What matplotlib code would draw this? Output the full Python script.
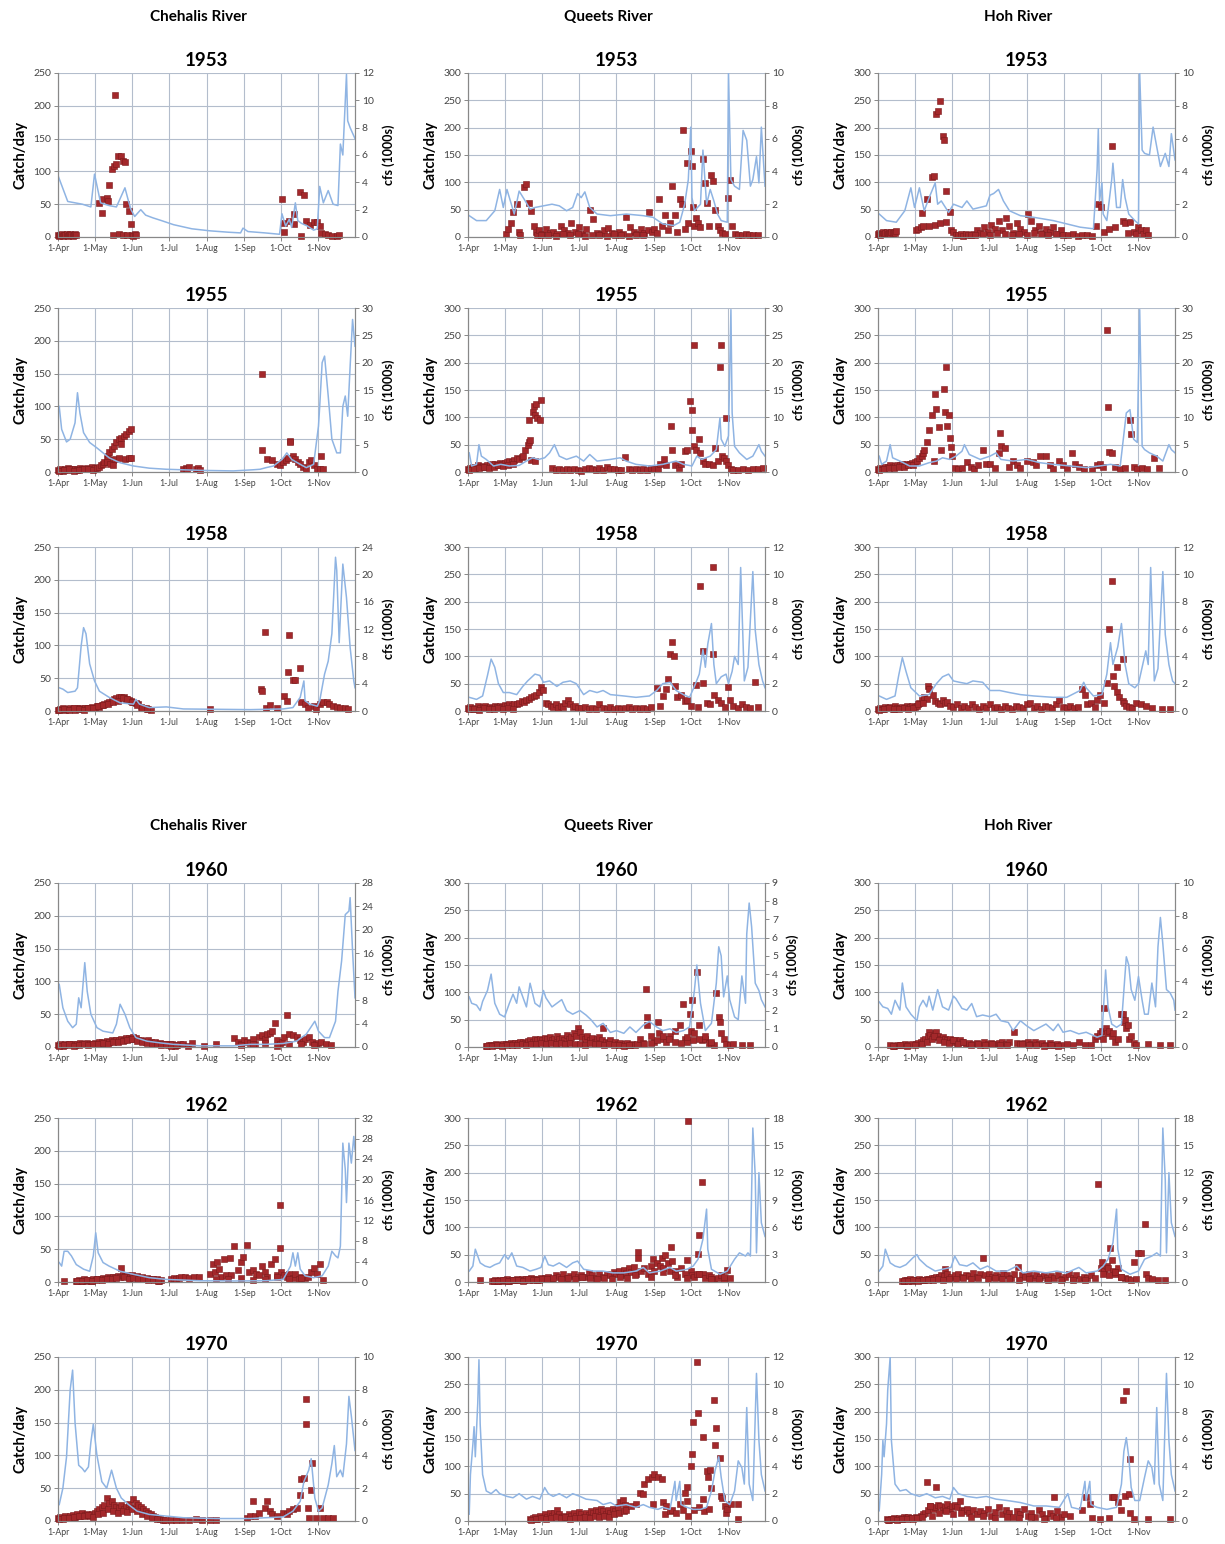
import matplotlib
matplotlib.use('Agg')  # headless

import matplotlib.pyplot as plt
import numpy as np

# ==========================================
# 1. Axis setup (day 0 = 1-Apr)
# ==========================================
MONTH_DAYS = [0, 30, 61, 91, 122, 153, 183, 214]
MONTH_LABELS = ['1-Apr', '1-May', '1-Jun', '1-Jul', '1-Aug', '1-Sep', '1-Oct', '1-Nov']
RIVERS = ['Chehalis River', 'Queets River', 'Hoh River']
YEARS = [1953, 1955, 1958, 1960, 1962, 1970]
CATCH_MAX = [250, 300, 300]
# right axis (cfs, 1000s) max / step per river, rows = years
CFS_MAX_CHE = [12, 30, 24, 28, 32, 10]
CFS_STEP_CHE = [2, 5, 4, 4, 4, 2]
CFS_MAX_QUE = [10, 30, 12, 9, 18, 12]
CFS_STEP_QUE = [2, 5, 2, 1, 3, 2]
CFS_MAX_HOH = [10, 30, 12, 10, 18, 12]
CFS_STEP_HOH = [2, 5, 2, 2, 3, 2]

# ==========================================
# 2. Data
# ==========================================
# ---- Chehalis 1953
CHE53_FLOW_DAY = [0, 8, 14, 20, 27, 30, 35, 42, 48, 55, 58, 60, 63, 68, 72, 78, 85, 95, 110, 125,
                  140, 150, 152, 156, 170, 182, 184, 187, 190, 192, 195, 197, 200, 205, 210, 213, 215, 218, 222, 226,
                  230, 232, 234, 237, 238, 240, 244]
CHE53_FLOW = [4.5, 2.6, 2.5, 2.4, 2.2, 4.6, 2.5, 2.3, 2.2, 3.6, 2.6, 2.0, 1.5, 2.0, 1.6, 1.4, 1.2, 0.9, 0.6, 0.45,
              0.35, 0.3, 0.65, 0.4, 0.3, 0.2, 1.7, 0.8, 1.3, 0.7, 2.5, 1.2, 1.0, 0.8, 0.5, 0.6, 3.7, 2.5, 3.4, 2.4,
              2.3, 6.8, 6.0, 11.9, 8.5, 8.0, 7.2]
CHE53_CATCH_DAY = [0, 1, 2, 3, 4, 5, 6, 7, 8, 9, 10, 11, 12, 13, 14, 15,
                   34, 36, 37, 40, 41, 42, 44, 45, 46, 47, 48, 49, 50, 52, 53, 53, 55, 56, 57, 58, 60, 61, 62, 63, 64,
                   184, 186, 186, 190, 194, 194, 199, 202, 200, 204, 207, 210, 213, 215, 216, 219, 222, 225, 229, 231]
CHE53_CATCH = [3, 2, 3, 4, 2, 3, 3, 4, 2, 3, 4, 3, 2, 3, 4, 3,
               52, 36, 58, 60, 55, 80, 103, 3, 108, 217, 111, 124, 4, 124, 3, 116, 114, 50, 3, 40, 20, 3, 2, 4, 3,
               58, 22, 8, 25, 20, 35, 69, 64, 2, 24, 18, 23, 23, 17, 6, 4, 3, 2, 1, 3]

# ---- Queets 1953
QUE53_FLOW_DAY = [1, 7, 15, 22, 26, 29, 32, 34, 38, 42, 47, 51, 55, 62, 69, 75, 81, 86, 90, 93,
                  96, 100, 106, 117, 130, 144, 152, 160, 169, 174, 178, 181, 183, 184, 186, 191, 193, 196, 199, 202,
                  205, 208, 213, 214, 216, 219, 223, 226, 229, 232, 234, 237, 239, 241, 244]
QUE53_FLOW = [1.3, 1.0, 1.0, 1.6, 2.9, 1.8, 2.9, 2.4, 1.4, 2.8, 2.2, 1.7, 1.8, 1.9, 2.0, 1.9, 1.6, 1.8, 2.65, 2.4,
              2.75, 1.8, 1.4, 1.3, 1.4, 1.3, 1.2, 0.8, 0.7, 0.9, 2.0, 3.5, 6.7, 2.4, 1.6, 2.0, 5.3, 2.0, 2.9, 2.2,
              1.4, 1.0, 0.9, 10.0, 3.5, 3.1, 2.9, 6.5, 5.9, 3.1, 3.5, 4.9, 3.3, 6.7, 3.1]
QUE53_CATCH_DAY = [31, 33, 35, 37, 40, 42, 43, 46, 48, 50, 52, 54, 56, 57,
                   58, 61, 64, 67, 70, 73, 76, 79, 82, 85, 88, 91, 94, 97, 100, 103, 106, 109, 112, 115,
                   118, 121, 124, 127, 130, 133, 136, 139, 142, 145, 148,
                   60, 66, 72, 78, 84, 90, 96, 102, 108, 114, 120, 126, 132, 138, 144,
                   149, 151, 153, 155, 157, 159, 162, 164, 166, 168, 170, 172, 174, 176, 177, 178, 180, 181, 183, 184,
                   185, 186, 187, 189, 191, 193, 195, 196, 198, 200, 201, 203, 205, 207, 209, 211, 214, 215, 217, 219,
                   222, 225, 228, 231, 234, 238]
QUE53_CATCH = [5, 15, 25, 45, 60, 10, 3, 92, 97, 62, 47, 20, 10, 3,
               12, 5, 15, 8, 10, 6, 20, 12, 8, 26, 10, 18, 6, 14, 49, 33, 8, 5, 12, 16,
               8, 4, 10, 6, 37, 18, 9, 5, 14, 8, 12,
               3, 4, 2, 5, 3, 6, 2, 4, 3, 2, 5, 3, 2, 4, 3,
               46, 10, 15, 8, 69, 20, 40, 12, 25, 94, 40, 10, 70, 60, 195, 15, 136, 25, 157, 130,
               55, 20, 35, 25, 18, 143, 98, 62, 20, 113, 103, 50, 20, 12, 8, 5, 72, 104, 20, 5,
               4, 3, 5, 3, 4, 3]

# ---- Hoh 1953
HOH53_FLOW_DAY = [1, 7, 15, 22, 27, 30, 34, 38, 42, 47, 49, 52, 58, 62, 69, 73, 78, 89, 92, 95,
                  99, 103, 108, 117, 128, 144, 155, 166, 177, 180, 181, 182, 184, 185, 188, 192, 193, 196, 199, 201,
                  203, 206, 211, 214, 215, 217, 219, 223, 226, 228, 232, 236, 239, 241, 244]
HOH53_FLOW = [1.4, 1.0, 0.9, 1.6, 3.0, 1.8, 3.0, 1.6, 2.4, 3.3, 2.0, 2.2, 1.5, 2.0, 1.8, 2.2, 1.7, 1.9, 2.55, 2.65,
              2.9, 2.2, 1.6, 1.3, 1.2, 1.0, 0.8, 0.6, 0.5, 4.1, 6.6, 2.2, 3.3, 1.4, 1.0, 3.5, 4.5, 1.8, 1.8, 3.5,
              2.4, 1.4, 1.0, 0.8, 10.0, 5.3, 5.1, 5.0, 6.7, 5.9, 4.3, 5.1, 4.3, 6.3, 4.7]
HOH53_CATCH_DAY = [0, 1, 2, 3, 4, 5, 6, 7, 8, 9, 10, 11, 12, 13, 14, 15,
                   31, 33, 35, 36, 37, 40, 42, 44, 46, 47, 48, 49, 51, 51, 53, 54, 56, 56, 59, 60, 62,
                   78, 81, 84, 87, 90, 93, 96, 99, 102, 105, 108, 111, 114, 117, 120, 123, 126, 129, 132, 135,
                   138, 141, 144, 147, 150,
                   64, 66, 68, 70, 72, 74, 76, 80, 86, 92, 98, 104, 110, 116, 122, 128, 134, 140, 146, 152,
                   156, 160, 164, 168, 172, 176,
                   179, 181, 183, 186, 190, 192, 195, 201, 203, 205, 207, 210, 212, 214, 216, 218, 220, 222]
HOH53_CATCH = [5, 8, 4, 6, 9, 5, 7, 10, 6, 8, 5, 9, 7, 10, 8, 11,
               12, 15, 18, 43, 20, 70, 20, 109, 112, 22, 225, 230, 249, 25, 184, 177, 84, 28, 46, 12, 10,
               5, 12, 8, 18, 10, 22, 15, 30, 12, 35, 20, 8, 25, 15, 10, 42, 30, 12, 20, 8,
               15, 10, 18, 5, 12,
               4, 3, 5, 2, 6, 3, 4, 3, 6, 4, 8, 5, 3, 6, 4, 8, 5, 3, 6, 4,
               3, 5, 2, 4, 3, 2,
               21, 60, 55, 10, 15, 167, 18, 30, 25, 8, 28, 10, 5, 18, 12, 6, 12, 4]

# ---- Chehalis 1955
CHE55_FLOW_DAY = [1, 3, 7, 10, 14, 16, 18, 21, 26, 32, 37, 42, 51, 62, 75, 89, 117, 144, 160, 166,
                  171, 177, 184, 188, 192, 199, 204, 210, 214, 215, 217, 219, 222, 225, 229, 232, 234, 236, 238, 240,
                  242, 244]
CHE55_FLOW = [12, 7.8, 5.5, 6.0, 9.0, 14.5, 10.8, 7.2, 5.4, 4.4, 3.5, 2.6, 1.7, 1.1, 0.7, 0.5, 0.3, 0.2, 0.4, 0.5,
              0.8, 1.1, 2.3, 3.5, 2.3, 1.4, 0.8, 1.4, 8.4, 12, 20, 21.2, 13.9, 6.0, 3.5, 3.5, 12, 13.9, 10.2, 19.3,
              27.9, 23]
CHE55_CATCH_DAY = [0, 2, 4, 6, 8, 10, 12, 14, 16, 18, 20, 22, 24, 26, 28, 30, 1, 5, 9, 13, 17, 21, 25, 29,
                   32, 34, 35, 37, 38, 40, 41, 42, 44, 45, 46, 48, 50, 52, 54, 56, 58, 60,
                   40, 43, 45, 47, 50, 52, 55, 58, 60,
                   103, 105, 106, 108, 113, 115, 117,
                   168, 168, 172, 176, 180, 182, 185, 187, 189, 191, 191, 193, 195, 197, 199, 201, 204, 206, 208, 210,
                   213, 215, 216, 218]
CHE55_CATCH = [3, 5, 2, 4, 6, 3, 5, 4, 3, 6, 5, 4, 6, 5, 7, 6, 2, 3, 4, 2, 3, 5, 4, 3,
               6, 8, 10, 12, 15, 22, 25, 30, 35, 19, 40, 45, 50, 52, 55, 58, 62, 65,
               15, 12, 10, 20, 22, 42, 20, 21, 22,
               4, 6, 5, 7, 4, 6, 3,
               150, 34, 20, 18, 12, 10, 15, 18, 22, 47, 45, 25, 20, 15, 12, 8, 5, 15, 18, 10,
               5, 5, 24, 4]

# ---- Queets 1955
QUE55_FLOW_DAY = [1, 3, 7, 9, 11, 15, 21, 27, 34, 42, 48, 53, 58, 63, 67, 71, 75, 81, 89, 95,
                  100, 106, 117, 125, 130, 138, 149, 160, 171, 177, 184, 188, 192, 199, 204, 207, 208, 211, 214, 216,
                  217, 219, 223, 229, 234, 239, 241, 244]
QUE55_FLOW = [3.5, 1.1, 1.4, 5.0, 2.9, 2.3, 1.1, 1.4, 1.1, 1.2, 2.0, 2.6, 2.3, 2.6, 3.5, 5.0, 2.9, 2.3, 2.9, 2.0,
              3.2, 2.0, 2.3, 2.6, 2.0, 1.4, 1.1, 1.4, 2.0, 1.4, 1.1, 2.9, 2.3, 2.9, 4.1, 9.9, 6.0, 4.7, 6.6, 29.7,
              10.8, 4.7, 3.5, 2.3, 2.9, 5.0, 3.8, 2.9]
QUE55_CATCH_DAY = [0, 2, 4, 6, 8, 10, 12, 14, 16, 18, 20, 22, 24, 26, 28, 30, 32, 34, 36, 38, 40, 42, 44,
                   1, 5, 9, 13, 17, 21, 25, 29, 33, 37,
                   45, 47, 49, 50, 50, 51, 53, 54, 55, 56, 57, 59, 60, 52, 55,
                   69, 72, 75, 78, 81, 84, 87, 90, 93, 96, 99, 102, 105, 108, 111, 114, 117, 120, 123, 126,
                   129, 132, 135, 138, 141, 144, 147, 150, 153, 156,
                   158, 161, 163, 167, 168, 170, 173, 175, 178, 180, 182, 184, 184, 186, 186, 187, 190, 191, 193, 195,
                   198, 201, 203, 205, 207, 208, 209, 210, 212, 212, 214, 216, 218, 222, 226, 230, 234, 238, 242]
QUE55_CATCH = [5, 8, 10, 7, 12, 9, 11, 10, 13, 12, 14, 15, 13, 16, 15, 17, 18, 20, 19, 22, 25, 24, 28,
               4, 6, 8, 9, 7, 10, 12, 11, 13, 15,
               30, 40, 50, 55, 96, 58, 110, 120, 105, 125, 99, 95, 131, 22, 20,
               7, 3, 5, 4, 6, 3, 5, 4, 2, 6, 8, 5, 3, 7, 4, 10, 5, 6, 4, 3,
               28, 5, 4, 6, 3, 5, 4, 8, 5, 6,
               15, 23, 12, 85, 40, 12, 8, 15, 38, 41, 130, 113, 77, 232, 47, 40, 60, 35, 20, 15,
               15, 12, 43, 20, 192, 232, 30, 25, 99, 20, 12, 5, 3, 4, 5, 3, 6, 5, 8]

# ---- Hoh 1955
HOH55_FLOW_DAY = [1, 3, 7, 10, 12, 18, 26, 34, 42, 48, 53, 59, 64, 69, 71, 75, 84, 92, 97, 101,
                  111, 122, 133, 144, 158, 171, 182, 191, 199, 204, 207, 210, 213, 215, 217, 219, 223, 229, 234, 239,
                  241, 244]
HOH55_FLOW = [2.9, 1.4, 2.0, 5.0, 2.6, 2.0, 1.1, 1.1, 1.7, 2.0, 2.6, 2.3, 2.9, 3.8, 5.0, 3.2, 2.3, 2.9, 3.5, 2.3,
              2.0, 2.3, 1.7, 1.4, 1.1, 0.8, 1.1, 1.4, 1.1, 10.8, 11.4, 6.0, 5.4, 29.7, 4.7, 4.1, 3.5, 2.9, 2.0, 5.0,
              4.1, 3.5]
HOH55_CATCH_DAY = [0, 2, 4, 6, 8, 10, 12, 14, 16, 18, 20, 22, 24, 26, 28, 30, 1, 5, 9, 13, 17, 21, 25, 29,
                   32, 34, 36, 37, 38, 40, 42, 44, 46, 47, 48, 50, 52, 54, 55, 56, 57, 58, 59, 60, 61,
                   63, 66, 69, 73, 76, 79, 82, 86, 89, 92, 96, 99, 100, 101, 104, 108, 111, 114, 117, 122,
                   127, 130, 133, 138, 141, 144, 149, 152, 155, 159, 162, 165, 169,
                   176, 180, 182, 185, 188, 189, 190, 192, 195, 199, 203, 207, 208, 210, 213, 217, 221, 227, 231]
HOH55_CATCH = [5, 8, 6, 10, 9, 12, 10, 11, 13, 12, 14, 12, 15, 14, 16, 18, 4, 6, 7, 8, 9, 10, 12, 13,
               20, 25, 30, 35, 40, 55, 77, 105, 20, 142, 115, 83, 40, 152, 110, 192, 84, 105, 62, 45, 30,
               8, 5, 8, 18, 10, 6, 12, 41, 15, 14, 8, 35, 71, 47, 44, 10, 20, 12, 8, 20,
               18, 12, 30, 30, 12, 5, 20, 12, 8, 34, 15, 10, 5,
               5, 12, 14, 10, 260, 119, 37, 35, 10, 5, 8, 96, 69, 10, 5, 8, 5, 25, 8]

# ---- Chehalis 1958
CHE58_FLOW_DAY = [1, 4, 8, 14, 16, 19, 21, 23, 26, 30, 34, 42, 51, 62, 64, 67, 75, 89, 103, 130,
                  158, 171, 185, 193, 199, 202, 203, 207, 213, 215, 219, 222, 225, 228, 229, 231, 234, 237, 240, 243,
                  244]
CHE58_FLOW = [3.4, 3.2, 2.7, 2.9, 3.4, 9.5, 12.2, 11.3, 6.9, 4.4, 2.9, 2.0, 1.2, 1.0, 1.7, 1.0, 0.5, 0.6, 0.3, 0.25,
              0.2, 0.25, 0.3, 0.5, 2.0, 4.4, 1.5, 1.0, 0.7, 1.5, 5.4, 7.3, 11.3, 22.5, 20.6, 10.0, 21.5, 16.6, 9.3, 4.4,
              3.4]
CHE58_CATCH_DAY = [0, 2, 4, 6, 8, 10, 12, 14, 16, 18, 20, 22, 24, 26, 28, 30,
                   32, 34, 36, 38, 40, 42, 44, 46, 48, 50, 52, 54, 56, 58, 60, 62, 64, 66, 68, 70, 72, 74, 76,
                   1, 5, 9, 13, 17, 21, 25, 29, 33, 37, 41, 45, 49, 53, 57, 61, 65, 69, 73,
                   125,
                   167, 168, 170, 171, 174, 180, 186, 188, 189, 190, 193, 195, 199, 200, 203, 205, 210, 212, 215, 218,
                   221, 223, 226, 229, 232, 236, 238]
CHE58_CATCH = [2, 3, 4, 2, 3, 4, 3, 2, 4, 5, 3, 4, 5, 4, 6, 5,
               7, 6, 9, 10, 12, 13, 15, 18, 20, 22, 22, 21, 19, 17, 15, 14, 12, 10, 6, 5, 4, 3, 2,
               1, 3, 2, 4, 3, 2, 5, 4, 8, 9, 11, 14, 16, 20, 18, 14, 9, 4, 3,
               3,
               33, 31, 121, 5, 9, 4, 23, 16, 59, 116, 47, 47, 66, 14, 10, 4, 8, 3, 10, 13,
               14, 10, 8, 6, 5, 4, 3]

# ---- Queets 1958
QUE58_FLOW_DAY = [1, 7, 12, 16, 19, 22, 25, 29, 34, 40, 45, 49, 55, 59, 62, 67, 73, 78, 84, 89,
                  95, 100, 106, 111, 117, 128, 138, 149, 155, 160, 166, 171, 177, 182, 186, 190, 193, 195, 197, 200,
                  202, 204, 208, 212, 214, 217, 219, 222, 224, 227, 230, 234, 236, 239, 242, 244]
QUE58_FLOW = [1.0, 0.85, 1.1, 2.6, 3.8, 3.2, 2.0, 1.35, 1.35, 1.2, 1.8, 2.2, 2.7, 2.6, 2.1, 2.2, 1.8, 2.1, 2.2, 2.0,
              1.2, 1.5, 1.35, 1.5, 1.2, 1.1, 1.0, 1.1, 1.5, 2.0, 2.1, 1.5, 1.2, 1.0, 1.8, 2.7, 4.5, 3.2, 4.9, 6.4,
              3.4, 2.0, 2.5, 2.7, 2.0, 2.9, 4.0, 3.4, 10.5, 2.2, 3.2, 10.2, 5.9, 3.4, 2.2, 1.7]
QUE58_CATCH_DAY = [0, 2, 4, 6, 8, 10, 12, 14, 16, 18, 20, 22, 24, 26, 28, 30, 32, 34, 36, 38, 40,
                   42, 44, 46, 48, 50, 52, 54, 56, 58, 60, 62,
                   64, 66, 68, 70, 72, 74, 76, 78, 80, 82, 84, 86, 88, 90,
                   93, 96, 99, 102, 105, 108, 111, 114, 117, 120, 123, 126, 129, 132, 135, 138, 141, 144, 147, 150,
                   1, 5, 9, 13, 17, 21, 25, 29, 33, 37,
                   155, 158, 160, 163, 164, 166, 168, 169, 170, 172, 175, 178, 180, 183, 187, 189, 191, 193, 193, 196,
                   199, 201, 201, 202, 205, 208, 211, 214, 215, 218, 222, 225, 228, 232, 236, 238]
QUE58_CATCH = [5, 8, 4, 6, 9, 5, 7, 10, 6, 8, 5, 9, 7, 10, 8, 11, 9, 12, 10, 12, 13,
               15, 18, 16, 20, 22, 25, 28, 30, 35, 43, 38,
               15, 12, 10, 8, 12, 6, 10, 8, 14, 21, 12, 8, 10, 6,
               5, 8, 3, 6, 4, 12, 5, 3, 7, 4, 6, 3, 5, 8, 4, 6, 3, 5, 4, 8,
               3, 4, 2, 5, 3, 4, 6, 3, 5, 4,
               42, 10, 28, 40, 58, 105, 127, 100, 45, 25, 30, 18, 20, 10, 47, 8, 228, 110, 52, 15,
               12, 263, 105, 30, 20, 15, 8, 43, 20, 10, 5, 12, 8, 5, 53, 8]

# ---- Hoh 1958
HOH58_FLOW_DAY = [1, 7, 14, 17, 20, 23, 27, 34, 42, 48, 53, 58, 62, 67, 73, 78, 86, 92, 100, 108,
                  117, 128, 144, 155, 166, 169, 171, 177, 184, 188, 191, 193, 197, 200, 203, 206, 211, 214, 217, 220,
                  222, 224, 227, 230, 234, 236, 239, 242, 244]
HOH58_FLOW = [1.1, 0.85, 1.1, 2.6, 3.9, 2.9, 1.7, 1.1, 1.2, 2.0, 2.5, 2.7, 2.2, 2.1, 2.0, 2.2, 2.1, 1.5, 1.5, 1.35,
              1.2, 1.1, 1.0, 1.0, 1.5, 2.1, 1.7, 1.1, 1.2, 2.7, 5.0, 3.4, 4.7, 6.4, 3.4, 2.0, 1.7, 2.0, 3.2, 4.4,
              3.4, 10.5, 2.2, 3.1, 10.2, 5.6, 3.4, 2.2, 2.0]
HOH58_CATCH_DAY = [0, 2, 4, 6, 8, 10, 12, 14, 16, 18, 20, 22, 24, 26, 28, 30,
                   32, 34, 36, 38, 40, 41, 42, 45, 47, 49, 51, 53, 55, 57, 59,
                   62, 65, 68, 71, 74, 77, 80, 83, 86, 89, 92, 95, 98, 101, 104, 107, 110, 113, 116, 119,
                   122, 125, 128, 131, 134, 137, 140, 143, 146, 149, 152, 155, 158, 161, 164,
                   1, 5, 9, 13, 17, 21, 25, 29, 33, 37,
                   168, 170, 172, 175, 178, 180, 182, 186, 188, 190, 192, 193, 194, 196, 196, 198, 201, 201, 202, 204,
                   206, 209, 212, 216, 220, 225, 233, 240]
HOH58_CATCH = [3, 6, 4, 8, 5, 7, 4, 9, 6, 5, 8, 6, 10, 7, 9, 8,
               10, 15, 20, 25, 22, 46, 40, 30, 18, 15, 12, 20, 14, 16, 10,
               8, 12, 6, 10, 5, 12, 8, 4, 10, 6, 12, 5, 8, 4, 9, 6, 3, 10, 7, 5,
               12, 15, 6, 9, 4, 10, 7, 5, 12, 20, 8, 6, 10, 5, 8,
               2, 3, 5, 4, 3, 6, 4, 5, 12, 14,
               40, 30, 12, 15, 8, 20, 30, 15, 52, 150, 238, 64, 45, 81, 35, 25, 95, 18, 15, 10,
               8, 5, 15, 12, 10, 5, 3, 3]

# ---- Chehalis 1960
CHE60_FLOW_DAY = [1, 4, 8, 12, 15, 17, 19, 22, 24, 27, 32, 37, 45, 48, 51, 55, 59, 64, 73, 84,
                  95, 117, 144, 158, 171, 185, 196, 204, 211, 214, 219, 223, 228, 230, 233, 236, 239, 240, 242, 244]
CHE60_FLOW = [10.7, 6.7, 4.4, 3.3, 3.9, 8.4, 6.7, 14.4, 9.5, 5.6, 3.3, 2.7, 2.4, 3.9, 7.3, 5.6, 3.3, 1.6, 1.0, 0.7,
              0.45, 0.2, 0.2, 0.45, 0.45, 0.6, 1.0, 2.2, 4.4, 2.7, 1.6, 1.6, 4.4, 9.5, 14.7, 22.6, 23.2, 25.5, 16.4, 8.4]
CHE60_CATCH_DAY = [0, 2, 4, 6, 8, 10, 12, 14, 16, 18, 20, 22, 24, 26, 28, 30, 32, 34, 36, 38,
                   40, 42, 44, 46, 48, 50, 52, 54, 56, 58, 60, 62, 64, 66, 68, 70, 72, 74, 76, 78,
                   80, 82, 84, 86, 88, 90, 92, 94, 96, 98, 100,
                   1, 5, 9, 13, 17, 21, 25, 29, 33, 37, 41, 45, 49, 53, 57, 61, 65, 69, 73, 77,
                   81, 85, 89, 93, 97,
                   103, 107, 110, 120, 130,
                   145, 148, 150, 153, 155, 158, 160, 162, 165, 168, 170, 172, 174, 176, 178, 180, 182, 184, 186, 188,
                   190, 193, 196, 199, 201, 203, 206, 209, 212, 214, 216, 220, 224,
                   150, 160, 170, 180, 190, 200, 210]
CHE60_CATCH = [3, 4, 2, 5, 3, 4, 5, 3, 4, 6, 5, 4, 6, 5, 4, 6, 5, 7, 8, 6,
               9, 8, 10, 9, 11, 10, 12, 11, 13, 14, 12, 15, 13, 11, 10, 9, 8, 10, 7, 6,
               8, 5, 6, 4, 5, 3, 4, 5, 2, 3, 4,
               2, 3, 4, 2, 3, 4, 3, 5, 4, 6, 5, 7, 8, 9, 10, 12, 9, 7, 6, 5,
               4, 3, 4, 2, 3,
               5, 2, 6, 2, 5,
               14, 8, 5, 10, 8, 6, 12, 5, 15, 18, 12, 20, 22, 25, 37, 10, 5, 8, 15, 49,
               20, 18, 15, 10, 8, 12, 15, 8, 5, 6, 8, 4, 3,
               3, 4, 6, 2, 5, 4, 3]

# ---- Queets 1960
QUE60_FLOW_DAY = [1, 3, 7, 10, 12, 16, 19, 22, 26, 30, 34, 37, 40, 42, 45, 48, 51, 55, 59, 62,
                  64, 69, 73, 77, 81, 86, 92, 97, 101, 106, 111, 117, 122, 128, 133, 138, 144, 149, 155, 160,
                  166, 171, 177, 182, 186, 188, 191, 195, 200, 204, 206, 208, 210, 213, 215, 219, 222, 225, 228, 229,
                  231, 233, 236, 239, 241, 244]
QUE60_FLOW = [2.75, 2.4, 2.3, 2.0, 2.5, 3.1, 4.0, 2.4, 1.8, 1.65, 2.4, 2.9, 2.4, 3.3, 2.75, 2.2, 3.5, 2.4, 2.2, 3.1,
              2.7, 2.2, 2.4, 2.6, 2.0, 1.8, 2.0, 1.75, 1.5, 1.1, 1.3, 0.8, 0.9, 0.75, 1.1, 0.8, 1.2, 1.4, 1.1, 0.9,
              1.0, 0.8, 0.9, 1.1, 3.1, 4.5, 2.4, 0.9, 1.3, 3.5, 5.5, 5.0, 2.75, 3.9, 2.6, 1.65, 1.5, 3.9, 2.4, 6.2,
              7.9, 6.6, 3.5, 3.1, 2.6, 2.2]
QUE60_CATCH_DAY = [15, 17, 19, 21, 23, 25, 27, 29, 31, 33, 35, 37, 39, 41, 43, 45, 47, 49, 51, 53,
                   55, 57, 59, 61, 63, 65, 67, 69, 71, 73, 75, 77, 79, 81, 83, 85, 87, 89,
                   90, 92, 94, 96, 98, 100, 102, 104, 106, 108, 110,
                   111, 113, 115, 117, 119, 121, 123, 125, 127, 129, 131, 133, 135, 137, 139,
                   16, 20, 24, 28, 32, 36, 40, 44, 48, 52, 56, 60, 64, 68, 72, 76, 80, 84, 88, 92,
                   96, 100, 104, 108, 112, 116, 120, 124, 128, 132,
                   141, 144, 146, 147, 147, 150, 153, 156, 157, 160, 163, 166, 170, 174, 177, 178, 180, 182, 183, 184,
                   186, 188, 190, 192, 195, 198, 200, 202, 204, 206, 207, 208, 210, 212, 215, 218, 225, 232,
                   145, 150, 155, 160, 165, 170, 175, 180, 185, 190, 195, 200]
QUE60_CATCH = [2, 3, 4, 3, 5, 4, 3, 5, 6, 5, 7, 6, 8, 7, 9, 10, 8, 11, 12, 10,
               14, 12, 15, 13, 16, 14, 18, 12, 15, 20, 14, 17, 12, 22, 15, 18, 25, 20,
               34, 28, 18, 15, 20, 12, 16, 10, 14, 18, 12,
               35, 10, 8, 12, 6, 9, 5, 7, 4, 6, 8, 3, 5, 4, 6,
               1, 2, 3, 2, 3, 4, 3, 5, 4, 6, 5, 7, 6, 8, 5, 7, 6, 8, 5, 6,
               4, 7, 5, 6, 4, 5, 3, 4, 2, 3,
               15, 8, 107, 55, 40, 20, 10, 45, 25, 15, 10, 20, 30, 40, 78, 15, 10, 61, 30, 86,
               25, 138, 40, 12, 15, 8, 6, 3, 98, 55, 45, 25, 15, 5, 3, 5, 3, 3,
               5, 8, 12, 20, 15, 10, 8, 18, 12, 15, 20, 10]

# ---- Hoh 1960
HOH60_FLOW_DAY = [1, 4, 8, 11, 14, 18, 20, 23, 27, 32, 34, 37, 40, 42, 45, 49, 53, 58, 62, 64,
                  69, 73, 77, 81, 86, 92, 97, 101, 107, 111, 117, 122, 128, 133, 138, 144, 148, 152, 158, 165,
                  171, 180, 184, 187, 189, 192, 196, 200, 204, 206, 208, 211, 214, 217, 219, 222, 225, 228, 230, 232,
                  234, 237, 240, 243, 244]
HOH60_FLOW = [2.75, 2.45, 2.35, 2.0, 2.85, 2.25, 3.9, 2.45, 2.0, 1.6, 2.45, 2.85, 2.45, 3.1, 2.25, 3.5, 2.45, 2.25, 3.1, 2.95,
              2.35, 2.25, 2.65, 1.85, 1.95, 1.85, 2.0, 1.6, 1.5, 1.0, 1.6, 1.3, 1.0, 1.2, 1.4, 1.0, 1.4, 0.9, 1.0, 0.8,
              0.9, 0.6, 0.7, 4.7, 2.45, 1.4, 1.2, 1.4, 5.5, 5.0, 3.5, 2.85, 4.3, 2.85, 2.0, 2.0, 3.9, 2.45, 6.1, 7.9,
              6.3, 3.5, 3.3, 2.85, 2.25]
HOH60_CATCH_DAY = [10, 13, 16, 19, 22, 25, 28, 31, 33, 35, 37, 39, 41, 42, 43, 45, 47, 48, 49, 51,
                   53, 55, 57, 59, 61, 63, 65, 67, 69, 72, 75, 78, 81, 84, 87, 90, 93, 96, 99, 102,
                   105, 108, 112, 114, 117, 120, 123, 126, 129, 132, 135, 138, 141, 144, 147, 150,
                   12, 18, 24, 30, 36, 40, 44, 46, 50, 54, 58, 62, 66, 70, 76, 82, 88, 94, 100, 106,
                   118, 124, 130, 136, 142, 148,
                   155, 160, 165, 170, 175, 178, 180, 182, 184, 185, 186, 187, 188, 190, 192, 193, 195, 197, 200, 201,
                   202, 203, 204, 205, 206, 208, 210, 212, 222, 232, 240]
HOH60_CATCH = [3, 2, 4, 3, 5, 4, 6, 5, 8, 10, 12, 15, 20, 28, 22, 18, 25, 28, 20, 15,
               18, 14, 12, 15, 10, 13, 8, 12, 9, 6, 8, 5, 7, 4, 9, 6, 8, 5, 7, 10,
               6, 9, 28, 8, 5, 7, 10, 6, 9, 5, 8, 4, 7, 3, 6, 4,
               2, 3, 2, 3, 6, 10, 15, 20, 12, 10, 8, 12, 6, 9, 4, 6, 3, 5, 4, 3,
               5, 3, 4, 2, 3, 2,
               5, 3, 10, 4, 3, 15, 20, 25, 30, 15, 72, 35, 25, 30, 20, 25, 10, 15, 60, 61,
               45, 50, 35, 40, 15, 20, 8, 3, 5, 3, 3]

# ---- Chehalis 1962
CHE62_FLOW_DAY = [1, 3, 5, 8, 11, 15, 21, 26, 29, 31, 33, 37, 42, 51, 62, 75, 89, 117, 144, 171,
                  185, 191, 193, 195, 197, 199, 203, 210, 217, 222, 225, 228, 230, 232, 234, 236, 237, 239, 241, 243,
                  244]
CHE62_FLOW = [3.8, 3.1, 6.0, 6.0, 5.1, 3.4, 2.5, 2.1, 5.1, 9.6, 5.7, 3.8, 3.1, 2.1, 1.5, 0.85, 0.5, 0.25, 0.2, 0.25,
              0.5, 3.1, 5.7, 3.1, 5.7, 2.5, 1.2, 0.85, 1.2, 3.1, 6.0, 5.1, 4.7, 7.0, 27.1, 22.0, 15.5, 27.1, 23.2, 28.4,
              25.8]
CHE62_CATCH_DAY = [5, 15, 17, 19, 21, 23, 25, 27, 29, 31, 33, 35, 37, 39, 41, 43, 45, 47, 49, 51,
                   52, 53, 55, 57, 59, 61, 63, 65, 67, 69, 71, 73, 75, 77, 79, 81, 83, 85,
                   16, 20, 24, 28, 32, 36, 40, 44, 48, 54, 58, 62, 66, 70, 74, 78, 82,
                   93, 95, 97, 99, 101, 104, 108, 112, 116,
                   125, 127, 129, 131, 132, 134, 136, 138, 141, 142, 145, 148, 150, 152, 155, 157, 160, 163, 165, 168,
                   170, 172, 175, 178, 180, 182, 182, 183, 186, 188, 190, 193, 195, 198, 200, 203, 205, 208, 210, 213,
                   215, 218,
                   130, 140, 150, 160, 170, 180, 190, 200]
CHE62_CATCH = [2, 2, 3, 1, 4, 2, 3, 2, 4, 3, 5, 4, 6, 5, 7, 6, 8, 7, 9, 8,
               22, 10, 9, 11, 8, 10, 7, 9, 6, 8, 5, 6, 4, 5, 3, 4, 2, 3,
               1, 2, 3, 2, 4, 3, 5, 4, 6, 7, 5, 6, 4, 5, 3, 4, 2,
               5, 6, 5, 6, 7, 8, 6, 7, 8,
               12, 27, 15, 30, 20, 8, 35, 10, 36, 10, 55, 18, 30, 38, 57, 15, 18, 12, 10, 25,
               15, 8, 28, 35, 10, 52, 117, 15, 10, 8, 12, 6, 12, 5, 8, 6, 8, 15, 22, 12,
               28, 3,
               5, 4, 6, 3, 5, 8, 4, 6]

# ---- Queets 1962
QUE62_FLOW_DAY = [1, 4, 6, 10, 14, 18, 22, 26, 30, 33, 36, 40, 45, 51, 56, 60, 63, 66, 70, 75,
                  81, 86, 90, 95, 103, 111, 119, 128, 138, 144, 149, 158, 166, 171, 180, 185, 189, 193, 196, 197,
                  200, 207, 213, 219, 223, 228, 230, 232, 234, 236, 237, 239, 241, 244]
QUE62_FLOW = [1.2, 1.75, 3.6, 2.1, 1.75, 1.6, 1.9, 2.1, 3.0, 2.5, 3.2, 1.75, 1.6, 1.2, 1.4, 1.6, 2.85, 1.9, 1.75, 2.1,
              1.6, 2.1, 2.3, 1.4, 1.2, 1.2, 1.0, 1.0, 1.2, 1.6, 1.0, 1.2, 1.6, 1.2, 1.4, 1.75, 2.5, 4.7, 8.0, 3.6,
              1.4, 0.85, 1.2, 2.5, 3.2, 2.85, 3.2, 2.85, 16.9, 11.6, 3.2, 12.0, 6.5, 5.0]
QUE62_CATCH_DAY = [10, 20, 22, 24, 26, 28, 30, 32, 34, 36, 38, 40, 42, 44, 46, 48, 50, 52, 54, 56,
                   58, 60, 63, 66, 69, 72, 75, 78, 81, 84, 87, 90, 93, 96, 99, 102, 105, 108, 111, 114,
                   117, 120, 122, 124, 126, 128, 130, 132, 134, 136, 138,
                   21, 25, 29, 33, 37, 41, 45, 49, 53, 57, 61, 65, 70, 76, 82, 88, 94, 100, 106, 112,
                   118, 125, 131, 137,
                   140, 140, 142, 145, 148, 150, 152, 153, 155, 158, 159, 160, 162, 164, 166, 167, 168, 170, 172, 175,
                   178, 180, 181, 183, 184, 186, 188, 189, 190, 192, 193, 195, 198, 200, 202, 205, 208, 210, 213, 215,
                   150, 160, 170, 180, 190, 200, 210]
QUE62_CATCH = [3, 2, 3, 1, 4, 2, 3, 5, 2, 4, 3, 5, 4, 6, 3, 5, 4, 8, 5, 6,
               4, 7, 8, 10, 6, 12, 9, 14, 8, 11, 15, 10, 13, 9, 16, 12, 8, 14, 10, 15,
               12, 18, 14, 20, 12, 22, 16, 25, 18, 28, 15,
               1, 2, 3, 2, 4, 3, 2, 5, 3, 4, 6, 5, 7, 6, 8, 5, 9, 7, 6, 8,
               5, 10, 8, 12,
               44, 54, 20, 25, 15, 30, 42, 20, 35, 30, 44, 25, 49, 35, 20, 64, 38, 20, 10, 25,
               15, 40, 295, 20, 12, 10, 15, 51, 86, 183, 15, 8, 12, 10, 5, 8, 12, 6, 22, 8,
               10, 18, 12, 8, 15, 6, 10]

# ---- Hoh 1962
HOH62_FLOW_DAY = [1, 4, 6, 10, 14, 18, 23, 29, 32, 34, 40, 47, 53, 60, 63, 67, 73, 78, 84, 90,
                  97, 106, 114, 119, 128, 138, 147, 155, 165, 171, 180, 185, 189, 193, 196, 197, 200, 207, 214, 219,
                  225, 229, 232, 234, 236, 237, 239, 241, 244]
HOH62_FLOW = [1.2, 1.75, 3.6, 2.1, 1.75, 1.6, 1.9, 2.7, 3.0, 2.5, 1.75, 1.2, 1.4, 1.6, 2.85, 1.9, 1.75, 2.1, 1.4, 1.75,
              1.2, 1.2, 1.75, 1.0, 1.2, 1.0, 1.2, 1.0, 1.6, 1.0, 1.2, 1.75, 2.5, 4.3, 8.0, 3.6, 1.4, 0.85, 1.2, 2.5,
              2.85, 3.2, 2.85, 16.9, 11.2, 3.2, 12.0, 6.5, 5.0]
HOH62_CATCH_DAY = [20, 22, 24, 26, 28, 30, 32, 34, 36, 38, 40, 42, 44, 46, 48, 50, 52, 54,
                   55, 57, 60, 63, 66, 69, 72, 75, 78, 81, 84, 86, 88,
                   91, 94, 97, 100, 103, 106, 109, 112, 115, 118, 121, 124, 127, 130, 133, 136, 139, 142, 145, 148,
                   151, 154, 157, 160, 163, 166, 169, 172, 175, 178,
                   21, 25, 29, 33, 37, 41, 45, 49, 53, 58, 64, 70, 76, 82, 90, 96, 102, 108, 116,
                   124, 132, 140, 150, 160, 170,
                   181, 183, 184, 186, 188, 189, 191, 192, 193, 195, 197, 200, 203, 205, 208, 210, 212, 214, 216, 219,
                   220, 222, 225, 230, 236,
                   185, 190, 195, 200]
HOH62_CATCH = [2, 4, 3, 5, 2, 4, 3, 5, 4, 3, 6, 5, 8, 7, 10, 9, 12, 11,
               23, 14, 10, 12, 15, 9, 13, 11, 16, 10, 14, 43, 12,
               15, 9, 13, 10, 16, 12, 8, 15, 28, 12, 10, 14, 8, 12, 9, 13, 7, 11, 8, 12,
               6, 10, 14, 8, 12, 6, 10, 7, 12, 8,
               1, 2, 3, 2, 3, 4, 3, 5, 4, 6, 5, 7, 6, 8, 5, 7, 6, 5, 4,
               6, 5, 3, 4, 3, 4,
               180, 25, 37, 20, 30, 25, 62, 40, 20, 15, 25, 10, 8, 5, 3, 37, 5, 53, 53, 106,
               15, 8, 5, 3, 3,
               15, 12, 18, 10]

# ---- Chehalis 1970
CHE70_FLOW_DAY = [1, 4, 7, 10, 12, 14, 17, 20, 22, 25, 27, 29, 32, 36, 40, 44, 48, 52, 58, 65,
                  75, 89, 103, 130, 158, 171, 185, 193, 199, 202, 206, 208, 211, 214, 217, 222, 225, 227, 229, 232,
                  234, 237, 239, 241, 244]
CHE70_FLOW = [1.0, 2.0, 3.9, 8.0, 9.2, 6.0, 3.4, 3.2, 3.0, 3.3, 4.8, 5.9, 4.0, 2.4, 2.0, 3.1, 2.0, 1.4, 1.0, 0.6,
              0.4, 0.3, 0.2, 0.15, 0.15, 0.2, 0.25, 0.6, 1.2, 2.4, 3.1, 3.8, 1.4, 0.6, 0.8, 2.2, 3.5, 4.6, 2.7, 3.1,
              2.7, 4.7, 7.6, 6.4, 4.3]
CHE70_CATCH_DAY = [0, 2, 4, 6, 8, 10, 12, 14, 16, 18, 20, 22, 24, 26, 28, 30, 32, 34, 36, 38,
                   40, 42, 44, 46, 48, 50, 52, 54, 56, 58, 60, 62, 64, 66, 68, 70, 72, 74, 76, 78,
                   80, 82, 84, 86, 88,
                   1, 5, 9, 13, 17, 21, 25, 29, 33, 37, 41, 45, 49, 53, 57, 61, 65, 69, 73, 77, 81,
                   93, 97, 102, 108, 113, 118, 125, 130,
                   155, 158, 160, 162, 165, 170, 172, 174, 176, 180, 185, 188, 190, 193, 196, 199, 200, 202, 204, 204,
                   205, 206, 208, 209, 212, 215, 218, 222, 226]
CHE70_CATCH = [4, 6, 3, 8, 5, 7, 9, 6, 10, 8, 12, 9, 11, 7, 10, 12, 15, 18, 22, 25,
               35, 28, 30, 25, 22, 20, 24, 18, 22, 26, 20, 33, 28, 25, 22, 18, 15, 12, 10, 8,
               6, 5, 3, 2, 2,
               3, 5, 4, 6, 8, 7, 9, 6, 10, 12, 18, 15, 12, 16, 14, 18, 15, 10, 8, 5, 3,
               2, 2, 2, 2, 3, 2, 2, 2,
               5, 8, 30, 8, 12, 20, 31, 15, 10, 8, 12, 10, 15, 18, 20, 40, 64, 65, 186, 148,
               20, 5, 48, 88, 5, 20, 5, 5, 5]

# ---- Queets 1970
QUE70_FLOW_DAY = [1, 2, 4, 5, 6, 8, 9, 10, 12, 15, 19, 23, 26, 32, 37, 42, 48, 53, 59, 63,
                  66, 70, 75, 81, 86, 92, 97, 106, 111, 117, 122, 130, 138, 144, 149, 156, 160, 166, 170, 171,
                  174, 175, 180, 185, 191, 196, 200, 203, 206, 208, 211, 215, 219, 222, 225, 227, 229, 231, 234, 237,
                  239, 241, 244]
QUE70_FLOW = [0.5, 3.4, 5.6, 6.9, 4.7, 8.6, 11.8, 7.1, 3.4, 2.2, 2.0, 2.3, 2.0, 1.8, 1.7, 2.0, 1.6, 1.8, 1.6, 2.45,
              2.0, 1.8, 2.0, 1.7, 2.0, 1.8, 1.6, 1.5, 1.2, 1.35, 1.1, 1.2, 1.0, 1.2, 1.0, 0.85, 1.0, 0.85, 2.9, 1.5,
              2.9, 1.2, 1.0, 0.85, 0.85, 1.0, 2.2, 3.7, 4.7, 3.2, 1.5, 1.2, 2.2, 4.4, 3.9, 2.7, 8.3, 2.7, 1.5, 10.8,
              5.9, 3.4, 2.2]
QUE70_CATCH_DAY = [51, 53, 55, 57, 59, 61, 63, 65, 67, 69, 71, 73, 75, 77, 79, 81, 83, 85, 87, 89,
                   91, 93, 95, 97, 99, 101, 103, 105, 107, 109, 111, 113, 115, 117, 119, 121, 123, 125, 127, 129,
                   52, 56, 60, 64, 68, 72, 76, 80, 84, 88, 92, 96, 100, 104, 108, 112, 116, 120, 124, 128,
                   130, 134, 138, 141, 144, 145, 148, 151, 152, 153, 156, 159, 160, 162, 163, 166, 168, 171, 174, 177,
                   178, 180, 180, 181, 183, 184, 185, 188, 189, 193, 193, 196, 197, 199, 200, 202, 203, 204, 207, 208,
                   209, 211, 212, 213, 216, 222, 222,
                   186, 190, 194, 198]
QUE70_CATCH = [3, 5, 8, 4, 10, 6, 12, 8, 15, 10, 14, 20, 12, 8, 10, 6, 12, 9, 14, 10,
               16, 12, 8, 15, 11, 18, 14, 20, 16, 22, 18, 12, 20, 15, 22, 18, 25, 35, 38, 30,
               2, 3, 5, 4, 6, 8, 5, 7, 4, 6, 5, 8, 6, 9, 7, 10, 8, 12, 15, 18,
               21, 28, 31, 52, 49, 67, 77, 80, 31, 86, 80, 77, 34, 12, 28, 18, 21, 15, 31, 21,
               52, 63, 37, 9, 101, 122, 181, 291, 197, 153, 40, 92, 80, 93, 60, 222, 139, 170, 116, 46,
               42, 28, 15, 22, 32, 32, 3,
               20, 25, 18, 22]

# ---- Hoh 1970
HOH70_FLOW_DAY = [1, 3, 4, 5, 7, 8, 10, 11, 14, 18, 23, 27, 34, 40, 47, 53, 59, 62, 66, 73,
                  81, 89, 97, 106, 117, 128, 138, 149, 156, 159, 166, 170, 171, 174, 175, 180, 188, 196, 200, 202,
                  204, 206, 208, 211, 215, 219, 222, 225, 227, 229, 231, 234, 237, 239, 241, 244]
HOH70_FLOW = [0.75, 3.4, 5.9, 4.7, 7.1, 9.6, 12.0, 5.9, 2.7, 2.2, 2.3, 2.0, 1.8, 2.0, 1.7, 1.8, 1.6, 2.45, 2.0, 1.8,
              1.7, 1.8, 1.6, 1.5, 1.35, 1.1, 1.1, 1.0, 2.0, 1.0, 0.85, 2.9, 1.5, 2.9, 1.2, 1.0, 0.85, 1.0, 2.7, 5.1,
              6.1, 4.7, 2.45, 1.5, 1.5, 3.2, 4.4, 3.9, 2.7, 8.3, 2.7, 1.5, 10.8, 5.9, 3.4, 2.2]
HOH70_CATCH_DAY = [7, 9, 11, 13, 15, 17, 19, 21, 23, 25, 27, 29, 31, 33, 35, 37, 39, 41, 43, 45,
                   47, 49, 51, 53, 55, 57, 59, 61, 63, 65, 67, 69, 71, 73, 75,
                   78, 81, 84, 87, 90, 93, 96, 99, 102, 105, 108, 111, 114, 117, 120, 123, 126, 129, 132, 135,
                   138, 141, 144, 147, 150, 153,
                   8, 12, 16, 20, 24, 28, 32, 36, 44, 50, 56, 62, 68, 76, 86, 96, 106, 116, 126, 136, 146,
                   40, 43, 48, 145, 158, 168, 171, 174, 176, 182, 190, 192, 194, 197, 200, 201, 204, 203, 206, 207,
                   207, 210, 222, 240]
HOH70_CATCH = [3, 2, 4, 5, 3, 6, 4, 7, 5, 8, 6, 4, 8, 6, 10, 12, 15, 20, 28, 22,
               25, 30, 28, 20, 26, 32, 22, 28, 30, 25, 37, 20, 18, 22, 15,
               20, 12, 18, 14, 22, 10, 16, 25, 12, 20, 15, 8, 18, 12, 22, 10, 15, 8, 20, 12,
               6, 15, 10, 18, 8, 12,
               2, 3, 2, 4, 3, 5, 6, 8, 10, 15, 18, 12, 15, 8, 10, 6, 8, 5, 7, 4, 5,
               72, 28, 63, 43, 10, 20, 43, 31, 5, 3, 5, 43, 43, 34, 21, 222, 237, 45, 49, 113,
               15, 3, 3, 3]

# ==========================================
# 3. Panel table (column = river, row = year)
# ==========================================
FLOW_DAYS = [[CHE53_FLOW_DAY, CHE55_FLOW_DAY, CHE58_FLOW_DAY, CHE60_FLOW_DAY, CHE62_FLOW_DAY, CHE70_FLOW_DAY],
             [QUE53_FLOW_DAY, QUE55_FLOW_DAY, QUE58_FLOW_DAY, QUE60_FLOW_DAY, QUE62_FLOW_DAY, QUE70_FLOW_DAY],
             [HOH53_FLOW_DAY, HOH55_FLOW_DAY, HOH58_FLOW_DAY, HOH60_FLOW_DAY, HOH62_FLOW_DAY, HOH70_FLOW_DAY]]
FLOWS = [[CHE53_FLOW, CHE55_FLOW, CHE58_FLOW, CHE60_FLOW, CHE62_FLOW, CHE70_FLOW],
         [QUE53_FLOW, QUE55_FLOW, QUE58_FLOW, QUE60_FLOW, QUE62_FLOW, QUE70_FLOW],
         [HOH53_FLOW, HOH55_FLOW, HOH58_FLOW, HOH60_FLOW, HOH62_FLOW, HOH70_FLOW]]
CATCH_DAYS = [[CHE53_CATCH_DAY, CHE55_CATCH_DAY, CHE58_CATCH_DAY, CHE60_CATCH_DAY, CHE62_CATCH_DAY, CHE70_CATCH_DAY],
              [QUE53_CATCH_DAY, QUE55_CATCH_DAY, QUE58_CATCH_DAY, QUE60_CATCH_DAY, QUE62_CATCH_DAY, QUE70_CATCH_DAY],
              [HOH53_CATCH_DAY, HOH55_CATCH_DAY, HOH58_CATCH_DAY, HOH60_CATCH_DAY, HOH62_CATCH_DAY, HOH70_CATCH_DAY]]
CATCHES = [[CHE53_CATCH, CHE55_CATCH, CHE58_CATCH, CHE60_CATCH, CHE62_CATCH, CHE70_CATCH],
           [QUE53_CATCH, QUE55_CATCH, QUE58_CATCH, QUE60_CATCH, QUE62_CATCH, QUE70_CATCH],
           [HOH53_CATCH, HOH55_CATCH, HOH58_CATCH, HOH60_CATCH, HOH62_CATCH, HOH70_CATCH]]
CFS_MAX = [CFS_MAX_CHE, CFS_MAX_QUE, CFS_MAX_HOH]
CFS_STEP = [CFS_STEP_CHE, CFS_STEP_QUE, CFS_STEP_HOH]

# ==========================================
# 4. Drawing
# ==========================================
plt.rcParams['font.family'] = ['Lato', 'DejaVu Sans']

W, H = 1225, 1544
COL_X = [58, 468, 878]
ROW_TOP = [73, 308, 547, 883, 1118, 1357]
AX_W, AX_H = 297, 164
GROUP_TITLE_Y = [17, 826]

FLOW_COLOR = '#8fb4e3'
CATCH_COLOR = '#a3282b'
GRID_COLOR = '#b3bdcc'
TICK_COLOR = '#444444'

fig = plt.figure(figsize=(W / 100, H / 100), dpi=100)

for g, ty in enumerate(GROUP_TITLE_Y):
    for c, river in enumerate(RIVERS):
        fig.text((COL_X[c] + AX_W / 2 - 8) / W, 1 - ty / H, river, ha='center', va='center',
                 fontsize=11, fontweight='bold')

for c in range(3):
    for r, year in enumerate(YEARS):
        left = COL_X[c] / W
        bottom = 1 - (ROW_TOP[r] + AX_H) / H
        ax = fig.add_axes([left, bottom, AX_W / W, AX_H / H])

        cmax = CATCH_MAX[c]
        ax.set_xlim(0, 244)
        ax.set_ylim(0, cmax)
        ax.set_xticks(MONTH_DAYS)
        ax.set_xticklabels(MONTH_LABELS)
        ax.set_yticks(np.arange(0, cmax + 1, 50))
        ax.grid(True, color=GRID_COLOR, lw=0.8)
        ax.set_axisbelow(True)
        ax.tick_params(axis='both', colors='#888888', labelcolor=TICK_COLOR, length=3, width=0.7)
        ax.tick_params(axis='x', labelsize=6.3, pad=2)
        ax.tick_params(axis='y', labelsize=7.5, pad=2)
        for side in ['left', 'bottom', 'right']:
            ax.spines[side].set_color('#888888')
            ax.spines[side].set_linewidth(0.8)
        ax.spines['top'].set_visible(False)

        ax.scatter(CATCH_DAYS[c][r], CATCHES[c][r], marker='s', s=22, color=CATCH_COLOR,
                   edgecolors='#7a1a1c', linewidths=0.4, zorder=3, clip_on=False)
        ax.set_ylabel('Catch/day', fontsize=10.5, fontweight='bold', labelpad=4)
        ax.set_title(str(year), fontsize=13.5, fontweight='bold', pad=5)

        ax2 = ax.twinx()
        fmax, fstep = CFS_MAX[c][r], CFS_STEP[c][r]
        ax2.set_ylim(0, fmax)
        ax2.set_yticks(np.arange(0, fmax + 0.01, fstep))
        ax2.plot(FLOW_DAYS[c][r], FLOWS[c][r], color=FLOW_COLOR, lw=1.1, zorder=2)
        ax2.tick_params(axis='y', colors='#888888', labelcolor=TICK_COLOR, length=3, width=0.7,
                        labelsize=7.5, pad=2)
        for side in ['left', 'bottom', 'right']:
            ax2.spines[side].set_color('#888888')
            ax2.spines[side].set_linewidth(0.8)
        ax2.spines['top'].set_visible(False)
        ax2.set_ylabel('cfs (1000s)', fontsize=9, fontweight='bold', labelpad=6)

fig.savefig('out.png', dpi=100, facecolor='white')
plt.close(fig)
